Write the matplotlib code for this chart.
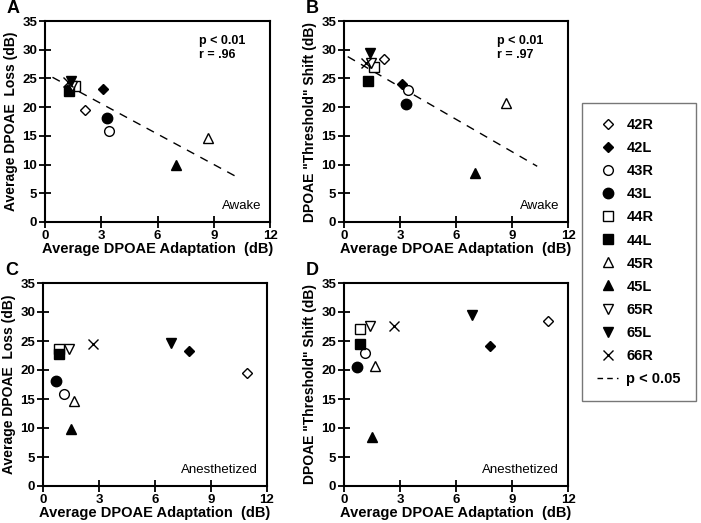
import matplotlib.pyplot as plt
from matplotlib.lines import Line2D

plt.rcParams['font.family'] = ['Liberation Sans', 'DejaVu Sans']

# ears (legend order)
ears = ['42R', '42L', '43R', '43L', '44R', '44L', '45R', '45L', '65R', '65L', '66R']
markers = ['D', 'D', 'o', 'o', 's', 's', '^', '^', 'v', 'v', 'x']
filled = [False, True, False, True, False, True, False, True, False, True, False]
msizes = [5, 5.5, 7, 7.5, 6.5, 6.5, 7.5, 7.5, 7.5, 7.5, 7.5]

# average DPOAE adaptation (dB)
adapt_awake = [2.15, 3.1, 3.42, 3.32, 1.6, 1.3, 8.68, 7.0, 1.42, 1.38, 1.2]
adapt_anes = [10.95, 7.8, 1.15, 0.67, 0.88, 0.88, 1.68, 1.5, 1.37, 6.88, 2.7]

# average DPOAE loss (dB) and "threshold" shift (dB)
loss = [19.5, 23.2, 15.9, 18.1, 23.7, 22.8, 14.7, 9.9, 23.7, 24.6, 24.4]
shift = [28.4, 24.1, 23.0, 20.5, 27.0, 24.5, 20.7, 8.5, 27.6, 29.4, 27.6]

# regression lines (awake only)
fit_a_x = [0.4, 10.2]
fit_a_y = [25.2, 7.9]
fit_b_x = [0.2, 10.35]
fit_b_y = [28.8, 9.7]


def box(l, r, t, b):
    return [l / 701, (523 - b) / 523, (r - l) / 701, (b - t) / 523]


def marker_line(i):
    if markers[i] == 'x':
        return dict(marker='x', ms=msizes[i], mec='black', mew=1.0, ls='none')
    return dict(marker=markers[i], ms=msizes[i],
                mfc='black' if filled[i] else 'white', mec='black',
                mew=1.0, ls='none')


def scatter_panel(ax, xs, ys):
    for i in range(len(ears)):
        ax.plot(xs[i], ys[i], **marker_line(i))


def decorate(ax, ylabel, letter):
    ax.set_xlim(0, 12)
    ax.set_ylim(0, 35)
    ax.set_xticks([0, 3, 6, 9, 12])
    ax.set_yticks(range(0, 36, 5))
    ax.tick_params(direction='inout', length=8, width=1.3, labelsize=9.5,
                   pad=1.5)
    for lab in ax.get_xticklabels() + ax.get_yticklabels():
        lab.set_fontweight('bold')
    for sp in ax.spines.values():
        sp.set_linewidth(1.5)
    ax.set_xlabel('Average DPOAE Adaptation  (dB)', fontsize=10.5,
                  fontweight='bold', labelpad=0)
    ax.set_ylabel(ylabel, fontsize=10, fontweight='bold', labelpad=3)
    ax.text(-0.14, 1.02, letter, transform=ax.transAxes, fontsize=13,
            fontweight='bold', va='bottom', ha='center')


fig = plt.figure(figsize=(7.01, 5.23), dpi=100)

axA = fig.add_axes(box(45, 270, 21, 222))
axB = fig.add_axes(box(344, 568, 21, 222))
axC = fig.add_axes(box(43, 267, 283, 486))
axD = fig.add_axes(box(344, 568, 283, 486))

loss_label = 'Average DPOAE  Loss (dB)'
shift_label = 'DPOAE "Threshold" Shift (dB)'

axA.plot(fit_a_x, fit_a_y, color='black', lw=1, dashes=(6, 5))
scatter_panel(axA, adapt_awake, loss)
decorate(axA, loss_label, 'A')
axA.text(0.685, 0.93, 'p < 0.01\nr = .96', transform=axA.transAxes,
         fontsize=9, fontweight='bold', va='top', linespacing=1.25)
axA.text(0.96, 0.05, 'Awake', transform=axA.transAxes, fontsize=9.5,
         ha='right', va='bottom')

axB.plot(fit_b_x, fit_b_y, color='black', lw=1, dashes=(6, 5))
scatter_panel(axB, adapt_awake, shift)
decorate(axB, shift_label, 'B')
axB.text(0.685, 0.93, 'p < 0.01\nr = .97', transform=axB.transAxes,
         fontsize=9, fontweight='bold', va='top', linespacing=1.25)
axB.text(0.96, 0.05, 'Awake', transform=axB.transAxes, fontsize=9.5,
         ha='right', va='bottom')

scatter_panel(axC, adapt_anes, loss)
decorate(axC, loss_label, 'C')
axC.text(0.96, 0.05, 'Anesthetized', transform=axC.transAxes, fontsize=9.5,
         ha='right', va='bottom')

scatter_panel(axD, adapt_anes, shift)
decorate(axD, shift_label, 'D')
axD.text(0.96, 0.05, 'Anesthetized', transform=axD.transAxes, fontsize=9.5,
         ha='right', va='bottom')

handles = [Line2D([], [], **marker_line(i)) for i in range(len(ears))]
handles.append(Line2D([], [], color='black', lw=1, dashes=(4, 3)))
labels = ears + ['p < 0.05']

leg = fig.legend(handles, labels, loc='upper left',
                 bbox_to_anchor=(582 / 701, 1 - 103 / 523),
                 frameon=True, fancybox=False, edgecolor='#555555',
                 prop={'weight': 'bold', 'size': 10.5},
                 handlelength=1.4, handletextpad=0.6, labelspacing=0.62,
                 borderpad=1.05, borderaxespad=0)
leg.get_frame().set_linewidth(1.0)

fig.savefig('out.png', dpi=100)
